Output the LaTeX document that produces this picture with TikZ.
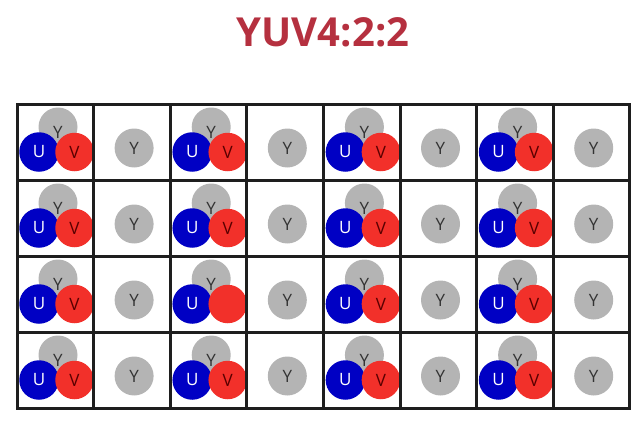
\documentclass[tikz,border=0pt]{standalone}
\usepackage{fontspec}
\setmainfont{Open Sans}
\usepackage{xcolor}

\definecolor{titlered}{HTML}{B5303F}
\definecolor{lumagray}{HTML}{B4B4B4}
\definecolor{chromablue}{HTML}{0000C4}
\definecolor{chromared}{HTML}{F2302A}
\definecolor{gridink}{HTML}{1E1E1E}

\begin{document}
\begin{tikzpicture}[x=1pt,y=-1pt,
  lumadot/.style={circle,fill=lumagray,minimum size=39pt,inner sep=0pt},
  ublob/.style={circle,fill=chromablue,minimum size=39.5pt,inner sep=0pt,text=white},
  vblob/.style={circle,fill=chromared,minimum size=38.5pt,inner sep=0pt,text=red!35!black},
  dotlabel/.style={font=\fontsize{17}{17}\selectfont,text=black!80},
  gridline/.style={draw=gridink,line width=3pt}]
\useasboundingbox (0,0) rectangle (644,420);

% title
\node[font=\bfseries\fontsize{40}{40}\selectfont,text=titlered] (title) at (323,32) {YUV4:2:2};

% Y+U+V cells
\foreach \r in {0,...,3} {
  \foreach \c in {0,2,4,6} {
    \pgfmathsetmacro\lx{17+76.6*\c}
    \pgfmathsetmacro\ty{104+76*\r}
    \node[lumadot] (y\c\r) at (\lx+41,\ty+23) {};
    \node[ublob,dotlabel,text=white] (u\c\r) at (\lx+22,\ty+48) {U};
    \node[vblob,dotlabel,text=red!35!black] (v\c\r) at (\lx+57.5,\ty+48) {\ifnum\c\r=22 \else V\fi};
    \node[dotlabel] (ylab\c\r) at (\lx+41,\ty+28) {Y};
  }
}

% Y only cells
\foreach \r in {0,...,3} {
  \foreach \c in {1,3,5,7} {
    \pgfmathsetmacro\lx{17+76.6*\c}
    \pgfmathsetmacro\ty{104+76*\r}
    \node[lumadot,dotlabel] (y\c\r) at (\lx+40.5,\ty+44) {Y};
  }
}

% grid
\foreach \c in {0,...,8}
  \draw[gridline] ({17+76.6*\c},104) -- ({17+76.6*\c},408);
\foreach \r in {0,...,4}
  \draw[gridline,line cap=rect] (17,{104+76*\r}) -- (629.8,{104+76*\r});
\end{tikzpicture}
\end{document}
